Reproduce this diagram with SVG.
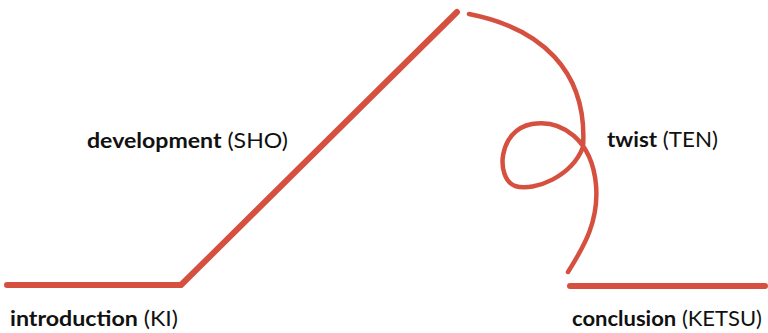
<svg xmlns="http://www.w3.org/2000/svg" width="768" height="333" viewBox="0 0 768 333">
<style>
.ln{fill:none;stroke:#d65040;stroke-width:6;stroke-linecap:round;stroke-linejoin:round}
.cv{fill:none;stroke:#d65040;stroke-width:4.5;stroke-linecap:round}
text{font-family:Lato,"Open Sans",sans-serif;font-size:21px;fill:#111}
.b{font-weight:700}
.r{font-weight:400}
</style>
<rect width="768" height="333" fill="#fff"/>
<g id="connectors">
<polyline class="ln" points="7,285 181,285 457,12"/>
<path class="cv" d="M469,14 C540,28 588,70 583,147 C 572,176 535,192 515,186 C 495,178 498,130 532,124 C 562,119 592,140 596,185 C 599,220 585,245 568,272"/>
<line class="ln" x1="570" y1="286" x2="765" y2="286"/>
</g>
<g id="ki"><text x="10" y="326" textLength="168" lengthAdjust="spacingAndGlyphs"><tspan class="b">introduction</tspan><tspan class="r"> (KI)</tspan></text></g>
<g id="sho"><text x="87" y="148" textLength="201" lengthAdjust="spacingAndGlyphs"><tspan class="b">development</tspan><tspan class="r"> (SHO)</tspan></text></g>
<g id="ten"><text x="607" y="147" textLength="111" lengthAdjust="spacingAndGlyphs"><tspan class="b">twist</tspan><tspan class="r"> (TEN)</tspan></text></g>
<g id="ketsu"><text x="572" y="326" textLength="190" lengthAdjust="spacingAndGlyphs"><tspan class="b">conclusion</tspan><tspan class="r"> (KETSU)</tspan></text></g>
</svg>
